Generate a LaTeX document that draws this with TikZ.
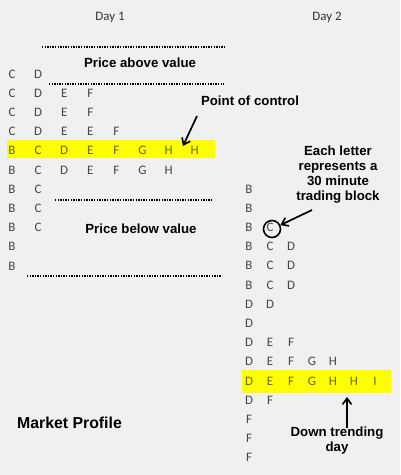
\documentclass[tikz,border=0pt]{standalone}
\usepackage{fontspec}
\setmainfont{Carlito}
\newfontfamily\labfont{Liberation Sans}
\usetikzlibrary{arrows.meta}
\definecolor{bg}{HTML}{F0F0F0}
\definecolor{ltr}{HTML}{454545}
\definecolor{ltry}{HTML}{666600}
\definecolor{hl}{HTML}{FFFF00}
\newcommand\rowA[3]{\foreach \l [count=\c] in {#3} \node[#1] (a#2c\c) at ({12+26.1*(\c-1)},{74+19.2*(#2-1)}) {\l};}
\newcommand\rowB[3]{\foreach \l [count=\c] in {#3} \node[#1] (b#2c\c) at ({249+21*(\c-1)},{189+19.2*(#2-1)}) {\l};}
\begin{document}
\begin{tikzpicture}[x=1bp,y=-1bp,
 lt/.style={inner sep=0pt, text=ltr, font=\fontsize{13}{13}\selectfont},
 lty/.style={lt, text=ltry},
 lab/.style={inner sep=0pt, align=center, font=\labfont\bfseries\fontsize{13.3}{15}\selectfont},
 dots/.style={line width=1.8bp, dash pattern=on 1.3bp off 1.3bp},
 arr/.style={-{Straight Barb[length=6bp,width=9bp]}, line width=1.7bp}]
\fill[bg] (0,0) rectangle (400,475);
\useasboundingbox (0,0) rectangle (400,475);
% highlight bands
\fill[hl] (7,140) rectangle (215,158);
\fill[hl] (242,370) rectangle (391,393);
% headers
\node[lt, text=black!80] (day1) at (110,17) {Day 1};
\node[lt, text=black!80] (day2) at (327,17) {Day 2};
% Day 1
\rowA{lt}{1}{C,D}
\rowA{lt}{2}{C,D,E,F}
\rowA{lt}{3}{C,D,E,F}
\rowA{lt}{4}{C,D,E,E,F}
\rowA{lty}{5}{B,C,D,E,F,G,H,H}
\rowA{lt}{6}{B,C,D,E,F,G,H}
\rowA{lt}{7}{B,C}
\rowA{lt}{8}{B,C}
\rowA{lt}{9}{B,C}
\rowA{lt}{10}{B}
\rowA{lt}{11}{B}
% Day 2
\rowB{lt}{1}{B}
\rowB{lt}{2}{B}
\rowB{lt}{3}{B,C}
\rowB{lt}{4}{B,C,D}
\rowB{lt}{5}{B,C,D}
\rowB{lt}{6}{B,C,D}
\rowB{lt}{7}{D,D}
\rowB{lt}{8}{D}
\rowB{lt}{9}{D,E,F}
\rowB{lt}{10}{D,E,F,G,H}
\rowB{lty}{11}{D,E,F,G,H,H,I}
\rowB{lt}{12}{D,F}
\rowB{lt}{13}{F}
\rowB{lt}{14}{F}
\rowB{lt}{15}{F}
% dotted lines
\draw[dots] (42,47) -- (226,47);
\draw[dots] (49,84) -- (224,84);
\draw[dots] (55,200) -- (213,200);
\draw[dots] (27,276) -- (222,276);
% labels
\node[lab] (above) at (140,63) {Price above value};
\node[lab] (below) at (141,229) {Price below value};
\node[lab] (poc) at (250,101) {Point of control};
\node[lab] (each) at (338,175) {Each letter\\represents a\\30 minute\\trading block};
\node[lab] (down) at (337,441) {Down trending\\day};
\node[lab, font=\labfont\bfseries\fontsize{15.9}{18}\selectfont] (mp) at (69.5,423) {Market Profile};
% circle
\node[draw, circle, line width=1.6bp, minimum size=17bp, inner sep=0pt] (circ) at (272,229) {};
% arrows
\coordinate (poctail) at (197,116);
\coordinate (poctip) at (183,146);
\coordinate (eachtail) at (312,210);
\coordinate (downtail) at (347,428);
\coordinate (downtip) at (347,397);
\draw[arr] (poctail) -- (poctip);
\draw[arr] (eachtail) -- (circ.25);
\draw[arr] (downtail) -- (downtip);
\end{tikzpicture}
\end{document}
